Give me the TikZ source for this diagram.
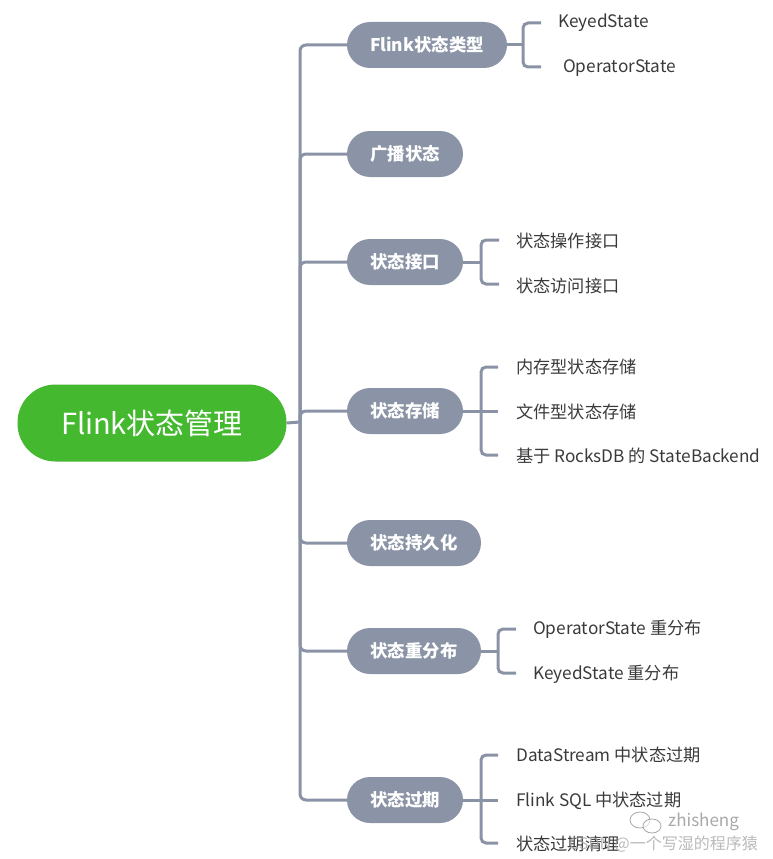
\documentclass[tikz,border=0pt]{standalone}
\usepackage{fontspec}
\setmainfont{Noto Sans CJK SC}
\definecolor{lineg}{HTML}{8A93A6}
\definecolor{nodeg}{HTML}{8A94A6}
\definecolor{rootg}{HTML}{44B92F}
\definecolor{leaftxt}{HTML}{3A3A3A}
\definecolor{wmark}{HTML}{A8A8A8}
\begin{document}
\begin{tikzpicture}[x=1pt,y=-1pt,
  conn/.style={draw=lineg, line width=3pt, rounded corners=6pt},
  brk/.style={draw=lineg, line width=3pt, rounded corners=5pt},
  rootbox/.style={fill=rootg, text=white, rounded corners=38pt, minimum width=269pt, minimum height=77pt, font=\fontsize{29}{34}\selectfont, inner sep=0pt},
  branchbox/.style={fill=nodeg, text=white, rounded corners=23pt, minimum height=46pt, font=\fontsize{17.4}{20}\selectfont\bfseries, inner sep=0pt},
  leaf/.style={anchor=west, text=leaftxt, inner sep=0pt, font=\fontsize{17.2}{20}\selectfont},
  wm/.style={text=wmark, inner sep=0pt}
]
\useasboundingbox (0,0) rectangle (773,859);

% root
\node[rootbox] (root) at (152,423) {Flink状态管理};
\coordinate (hub) at (300,422);

% branches
\node[branchbox, minimum width=160pt] (b1) at (427,45) {Flink状态类型};
\node[branchbox, minimum width=116pt] (b2) at (405,154) {广播状态};
\node[branchbox, minimum width=116pt] (b3) at (405,262) {状态接口};
\node[branchbox, minimum width=116pt] (b4) at (405,411) {状态存储};
\node[branchbox, minimum width=134pt] (b5) at (414,543) {状态持久化};
\node[branchbox, minimum width=134pt] (b6) at (414,651) {状态重分布};
\node[branchbox, minimum width=116pt] (b7) at (405,800) {状态过期};

\draw[conn] (root.east) -- (hub);
\foreach \b in {b1,b2,b3,b4,b5,b6,b7}{
  \draw[conn] (hub) |- (\b.west);
}

% leaves
\node[leaf] (l11) at (558,23) {KeyedState};
\node[leaf] (l12) at (563,68) {OperatorState};

\node[leaf] (l31) at (516,241) {状态操作接口};
\node[leaf] (l32) at (516,286) {状态访问接口};

\node[leaf] (l41) at (516,367) {内存型状态存储};
\node[leaf] (l42) at (516,412) {文件型状态存储};
\node[leaf] (l43) at (516,456) {基于 RocksDB 的 StateBackend};

\node[leaf] (l61) at (533,629) {OperatorState 重分布};
\node[leaf] (l62) at (533,674) {KeyedState 重分布};

\node[leaf] (l71) at (516,755) {DataStream 中状态过期};
\node[leaf] (l72) at (516,801) {Flink SQL 中状态过期};
\node[leaf] (l73) at (516,844) {状态过期清理};

% brackets
\coordinate (k1) at (523,45);
\coordinate (t11) at (541,23);
\coordinate (t12) at (541,67);
\draw[brk] (b1.east) -- (k1);
\draw[brk] (t11) -| (k1) |- (t12);

\coordinate (k3) at (481,262);
\coordinate (t31) at (499,240);
\coordinate (t32) at (499,284);
\draw[brk] (b3.east) -- (k3);
\draw[brk] (t31) -| (k3) |- (t32);

\coordinate (k4) at (481,411);
\coordinate (t41) at (498,367);
\coordinate (t42) at (498,411);
\coordinate (t43) at (498,455);
\draw[brk] (b4.east) -- (t42);
\draw[brk] (t41) -| (k4) |- (t43);

\coordinate (k6) at (498,651);
\coordinate (t61) at (516,629);
\coordinate (t62) at (516,673);
\draw[brk] (b6.east) -- (k6);
\draw[brk] (t61) -| (k6) |- (t62);

\coordinate (k7) at (481,800);
\coordinate (t71) at (498,755);
\coordinate (t72) at (498,800);
\coordinate (t73) at (498,843);
\draw[brk] (b7.east) -- (t72);
\draw[brk] (t71) -| (k7) |- (t73);

% watermark
\draw[wmark, line width=0.8pt] (640,820) ellipse (10pt and 8pt);
\draw[wmark, line width=0.8pt, fill=white, fill opacity=0.6] (652,826) ellipse (9pt and 7pt);
\node[wm, anchor=west, font=\fontsize{17}{20}\selectfont] (wm1) at (668,822) {zhisheng};
\node[wm, anchor=east, font=\fontsize{16}{20}\selectfont, opacity=0.8] (wm2) at (758,844) {CSDN @一个写湿的程序猿};
\end{tikzpicture}
\end{document}
